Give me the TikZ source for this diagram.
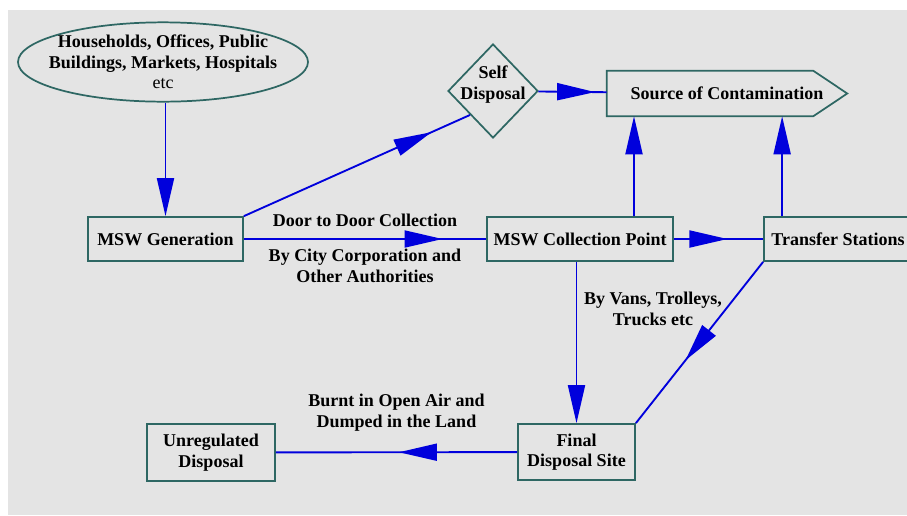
\documentclass[tikz,border=0pt]{standalone}
\usepackage{fontspec}
\setmainfont{Liberation Serif}
\usepackage{xcolor}
\usetikzlibrary{arrows.meta, shapes.geometric, decorations.markings}
\definecolor{mswteal}{HTML}{2E6763}
\definecolor{mswblue}{HTML}{0000DC}
\definecolor{mswgray}{HTML}{E4E4E4}

\begin{document}
\begin{tikzpicture}[
    x=0.75pt, y=-0.75pt,
    font=\bfseries\fontsize{13.5}{15.5}\selectfont,
    box/.style={draw=mswteal, line width=1.3pt, align=center, inner sep=0pt},
    flow/.style={color=mswblue, line width=1.4pt},
    endtip/.style={-{Triangle[length=28.5pt, width=12.75pt]}},
    arrowat/.style={postaction={decorate, decoration={markings,
      mark=at position #1 with {\arrow{Triangle[length=28.5pt, width=12.75pt]}}}}},
    lbl/.style={align=center, inner sep=1pt, text=black}
  ]
    \fill[mswgray] (8,10) rectangle (907,515);
    \useasboundingbox (0,0) rectangle (907,515);

    % sources and disposal shapes
    \node[box, ellipse, minimum width=217.5pt, minimum height=59.5pt,
      label={[align=center]center:{Households, Offices, Public\\Buildings, Markets, Hospitals\\{\mdseries etc}}}] (src) at (163,62) {};
    \node[box, diamond, minimum width=67.5pt, minimum height=70.5pt,
      label={[align=center, yshift=5pt]center:{Self\\Disposal}}] (selfd) at (493,91) {};
    \node[minimum width=180pt, minimum height=33.75pt] (contam) at (727,93.5) {Source of Contamination};
    \draw[box] (contam.north west) -- ([xshift=-25.5pt]contam.north east) -- (contam.east)
      -- ([xshift=-25.5pt]contam.south east) -- (contam.south west) -- cycle;

    % main chain
    \node[box, minimum width=116.25pt, minimum height=33pt] (gen) at (165.5,239) {MSW Generation};
    \node[box, minimum width=139.5pt, minimum height=33pt] (coll) at (580,239) {MSW Collection Point};
    \node[box, minimum width=111pt, minimum height=33pt] (trans) at (838,239) {Transfer Stations};
    \node[box, minimum width=87.75pt, minimum height=42pt] (final) at (576.5,452) {Final\\Disposal Site};
    \node[box, minimum width=96pt, minimum height=42.75pt] (unreg) at (211,452.5) {Unregulated\\Disposal};

    \coordinate (up1) at ([xshift=40.5pt]coll.north);
    \coordinate (up2) at ([xshift=14.25pt]trans.north west);

    \draw[flow, endtip] (src.south -| gen.north) -- (gen.north);
    \draw[flow, arrowat=0.83] (gen.north east) -- (selfd.south west);
    \draw[flow, arrowat=0.83] (selfd) -- (contam);
    \draw[flow, arrowat=0.82] (gen) -- (coll)
      node[lbl, midway, above=7.5pt] (door) {Door to Door Collection}
      node[lbl, midway, below=6pt] (city) {By City Corporation and\\Other Authorities};
    \draw[flow, arrowat=0.6] (coll) -- (trans);
    \draw[flow, endtip] (up1) -- (up1 |- contam.south);
    \draw[flow, endtip] (up2) -- (up2 |- contam.south);
    \draw[flow, endtip] (coll.south -| final.north) -- (final.north)
      node[lbl, pos=0.29, right=4pt] (vans) {By Vans, Trolleys,\\Trucks etc};
    \draw[flow, arrowat=0.61] (trans.south west) -- (final.north east);
    \draw[flow, arrowat=0.49] (final) -- (unreg)
      node[lbl, midway, above=14pt] (burnt) {Burnt in Open Air and\\Dumped in the Land};
  \end{tikzpicture}
\end{document}
